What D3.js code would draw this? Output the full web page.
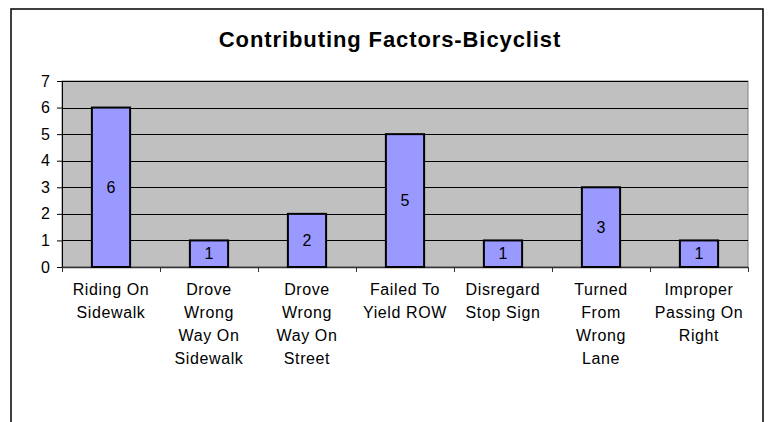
<!DOCTYPE html>
<html>
<head>
<meta charset="utf-8">
<script src="https://cdn.jsdelivr.net/npm/d3@7"></script>
<style>
  body { margin: 0; background: #fff; }
  svg { display: block; font-family: Arial, "Liberation Sans", sans-serif; }
</style>
</head>
<body>
<div id="chart"></div>
<script>
var title = "Contributing Factors-Bicyclist";

var categories = [
  "Riding On Sidewalk",
  "Drove Wrong Way On Sidewalk",
  "Drove Wrong Way On Street",
  "Failed To Yield ROW",
  "Disregard Stop Sign",
  "Turned From Wrong Lane",
  "Improper Passing On Right"
];
// tick labels as they wrap under each bar
var tickLabels = [
  ["Riding On", "Sidewalk"],
  ["Drove", "Wrong", "Way On", "Sidewalk"],
  ["Drove", "Wrong", "Way On", "Street"],
  ["Failed To", "Yield ROW"],
  ["Disregard", "Stop Sign"],
  ["Turned", "From", "Wrong", "Lane"],
  ["Improper", "Passing On", "Right"]
];
var counts = [6, 1, 2, 5, 1, 3, 1];
var yTicks = [0, 1, 2, 3, 4, 5, 6, 7];

var width = 768,
    height = 422;

var plotL = 62, plotR = 748,
    plotT = 81, plotB = 267;

var svg = d3.select("#chart").append("svg")
    .attr("width", width)
    .attr("height", height);

// outer chart frame
svg.append("rect")
    .attr("x", 11)
    .attr("y", 9)
    .attr("width", 752)
    .attr("height", 430)
    .style("fill", "#ffffff")
    .style("stroke", "#000000")
    .style("stroke-width", 1.5);

svg.append("text")
    .attr("x", 390)
    .attr("y", 47)
    .attr("text-anchor", "middle")
    .style("font-size", "22px")
    .style("font-weight", "bold")
    .style("letter-spacing", "0.9px")
    .text(title);

var x = d3.scaleBand()
    .domain(categories)
    .range([plotL, plotR])
    .paddingInner(0.61)
    .paddingOuter(0.305);

var y = d3.scaleLinear()
    .domain([0, 7])
    .range([plotB, plotT]);

// plot background
svg.append("rect")
    .attr("x", plotL)
    .attr("y", plotT)
    .attr("width", plotR - plotL)
    .attr("height", plotB - plotT)
    .style("fill", "#c0c0c0")
    .style("stroke", "#808080")
    .style("stroke-width", 1);

// gridlines
svg.append("g").selectAll("line")
    .data(yTicks.filter(function(d) { return d > 0; }))
    .enter().append("line")
    .attr("x1", plotL)
    .attr("x2", plotR)
    .attr("y1", function(d) { return Math.round(y(d)) + 0.5; })
    .attr("y2", function(d) { return Math.round(y(d)) + 0.5; })
    .style("stroke", "#000000")
    .style("stroke-width", 1);

// y axis
var yAxis = svg.append("g")
    .attr("transform", "translate(" + plotL + ",0)")
    .call(d3.axisLeft(y).tickValues(yTicks).tickSize(5).tickPadding(7).tickFormat(d3.format("d")));
yAxis.select(".domain").style("stroke", "#000000");
yAxis.selectAll(".tick line").style("stroke", "#000000");
yAxis.selectAll("text")
    .style("font-size", "16px")
    .style("font-family", "Arial, 'Liberation Sans', sans-serif")
    .style("fill", "#000000");

// x axis line and category ticks at band edges
var step = x.step();
var edges = categories.map(function(c) { return x(c) - step * x.paddingInner() / 2; });
edges.push(plotR);

svg.append("line")
    .attr("x1", plotL)
    .attr("x2", plotR)
    .attr("y1", plotB + 0.5)
    .attr("y2", plotB + 0.5)
    .style("stroke", "#333333")
    .style("stroke-width", 1.5);

svg.append("g").selectAll("line")
    .data(edges)
    .enter().append("line")
    .attr("x1", function(d) { return Math.round(d) + 0.5; })
    .attr("x2", function(d) { return Math.round(d) + 0.5; })
    .attr("y1", plotB)
    .attr("y2", plotB + 5)
    .style("stroke", "#333333")
    .style("stroke-width", 1);

// bars
var bars = svg.append("g").selectAll("g")
    .data(counts)
    .enter().append("g");

bars.append("rect")
    .attr("x", function(d, i) { return x(categories[i]); })
    .attr("y", function(d) { return y(d); })
    .attr("width", x.bandwidth())
    .attr("height", function(d) { return y(0) - y(d); })
    .style("fill", "#9999ff")
    .style("stroke", "#000000")
    .style("stroke-width", 2);

bars.append("text")
    .attr("x", function(d, i) { return x(categories[i]) + x.bandwidth() / 2; })
    .attr("y", function(d) { return (y(d) + y(0)) / 2; })
    .attr("dy", "0.35em")
    .attr("text-anchor", "middle")
    .style("font-size", "16px")
    .text(function(d) { return d; });

// category labels
var labels = svg.append("g").selectAll("text")
    .data(categories)
    .enter().append("text")
    .attr("x", function(d) { return x(d) + x.bandwidth() / 2; })
    .attr("y", 295)
    .attr("text-anchor", "middle")
    .style("font-size", "16px")
    .style("letter-spacing", "0.6px");

labels.each(function(d, i) {
  var t = d3.select(this),
      cx = t.attr("x");
  tickLabels[i].forEach(function(s, j) {
    t.append("tspan")
        .attr("x", cx)
        .attr("dy", j === 0 ? 0 : 23)
        .text(s);
  });
});
</script>
</body>
</html>
